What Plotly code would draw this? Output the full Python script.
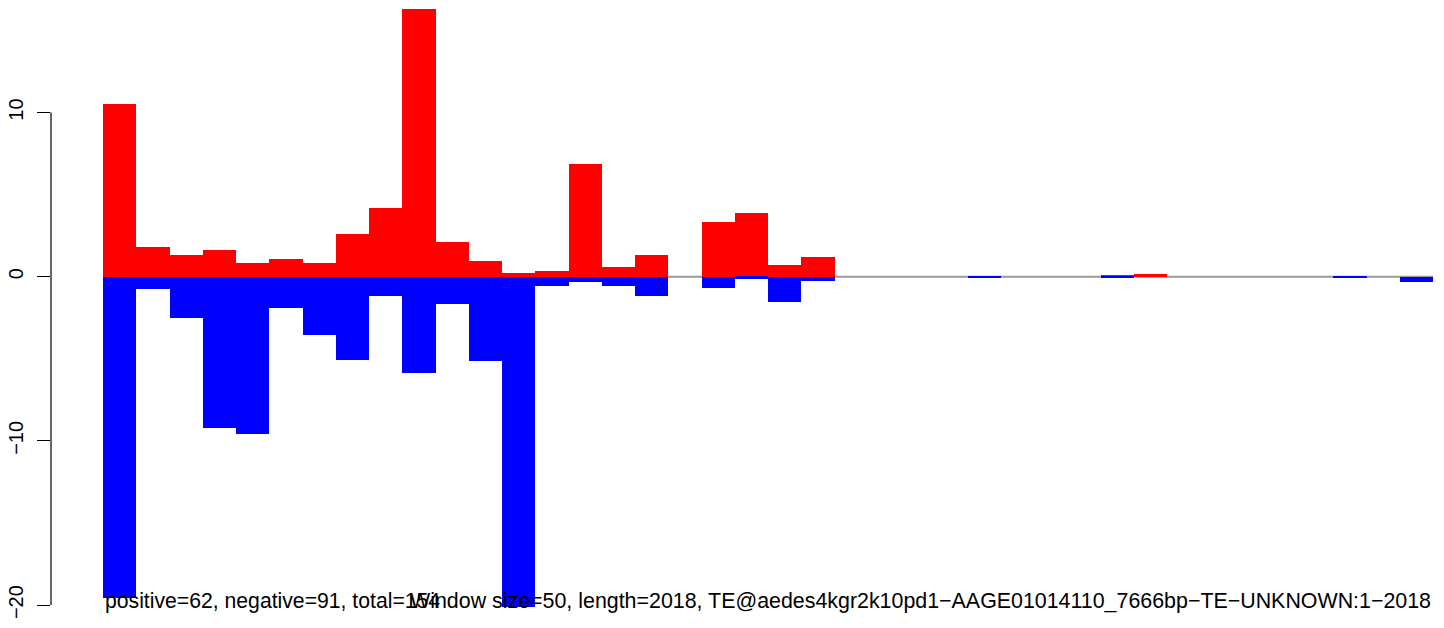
import plotly.graph_objects as go

# ---- data ----
positive = [10.52, 1.81, 1.32, 1.63, 0.83, 1.08, 0.83, 2.60, 4.18, 16.30,
            2.11, 0.96, 0.23, 0.35, 6.86, 0.59, 1.32, 0.00, 3.33, 3.88,
            0.71, 1.20, 0.00, 0.00, 0.00, 0.00, 0.00, 0.00, 0.00, 0.00,
            0.10, 0.15, 0.00, 0.00, 0.00, 0.00, 0.00, 0.00, 0.00, 0.00]
negative = [-19.59, -0.75, -2.50, -9.19, -9.56, -1.91, -3.53, -5.07, -1.16, -5.85,
            -1.66, -5.13, -20.10, -0.55, -0.30, -0.55, -1.16, 0.00, -0.67, -0.12,
            -1.52, -0.24, 0.00, 0.00, 0.00, 0.00, -0.07, 0.00, 0.00, 0.00,
            -0.07, 0.00, 0.00, 0.00, 0.00, 0.00, 0.00, -0.07, 0.00, -0.33]
y_ticks = [-20, -10, 0, 10]
left_label = "positive=62, negative=91, total=154"
right_label = ("Window size=50, length=2018, "
               "TE@aedes4kgr2k10pd1\u2212AAGE01014110_7666bp\u2212TE\u2212UNKNOWN:1\u22122018")

n = len(positive)
centers = [i + 0.5 for i in range(n)]

# ---- layout geometry (pixels) ----
W, H = 1444, 628
plot_left = 51
bar0_px = 103.0
px_per_bar = 33.25
zero_px = 276.7
px_per_unit = 16.42

x_range = [(plot_left - bar0_px) / px_per_bar, (W - bar0_px) / px_per_bar]
y_range = [(zero_px - H) / px_per_unit, zero_px / px_per_unit]

FONT = "Liberation Sans, Arial, Helvetica, sans-serif"

fig = go.Figure()
fig.add_trace(go.Bar(x=centers, y=positive, width=1.0,
                     marker=dict(color="#FF0000", line=dict(width=0)),
                     hoverinfo="skip", showlegend=False))
fig.add_trace(go.Bar(x=centers, y=negative, width=1.0,
                     marker=dict(color="#0000FF", line=dict(width=0)),
                     hoverinfo="skip", showlegend=False))

# grey baseline under the bars, across all windows
fig.add_shape(type="line", xref="x", yref="y", x0=0, x1=n, y0=0, y1=0,
              line=dict(color="#9a9a9a", width=2), layer="below")
# R-style axis spine spanning only the tick range
fig.add_shape(type="line", xref="paper", yref="y", x0=0, x1=0,
              y0=min(y_ticks), y1=max(y_ticks),
              line=dict(color="black", width=1.2), layer="above")

# the two bottom captions overlap in the reference as well (R text() calls)
text_y = (zero_px - 600.5) / px_per_unit
fig.add_annotation(x=0, y=text_y, xref="x", yref="y", text=left_label,
                   showarrow=False, xanchor="left", yanchor="middle",
                   font=dict(family=FONT, size=21.2, color="black"))
fig.add_annotation(x=n, y=text_y, xref="x", yref="y", text=right_label,
                   showarrow=False, xanchor="right", yanchor="middle",
                   font=dict(family=FONT, size=21.4, color="black"))

fig.update_layout(
    template="none",
    width=W, height=H,
    margin=dict(l=plot_left, r=0, t=0, b=0, pad=0),
    paper_bgcolor="white", plot_bgcolor="white",
    barmode="overlay", bargap=0,
    showlegend=False,
    xaxis=dict(range=x_range, visible=False, showgrid=False, zeroline=False,
               automargin=False, fixedrange=True),
    yaxis=dict(range=y_range, tickmode="array", tickvals=y_ticks,
               ticktext=[str(v).replace("-", "\u2212") for v in y_ticks],
               tickangle=-90, ticks="outside", ticklen=13, tickwidth=1.2,
               tickcolor="black", showline=False, showgrid=False,
               zeroline=False, automargin=False, ticklabelstandoff=6,
               tickfont=dict(family=FONT, size=20, color="black"),
               fixedrange=True),
)

fig.write_html(
    "out.html",
    config={"displayModeBar": False},
    post_script="document.body.style.margin='0';document.body.style.overflow='hidden';",
)
